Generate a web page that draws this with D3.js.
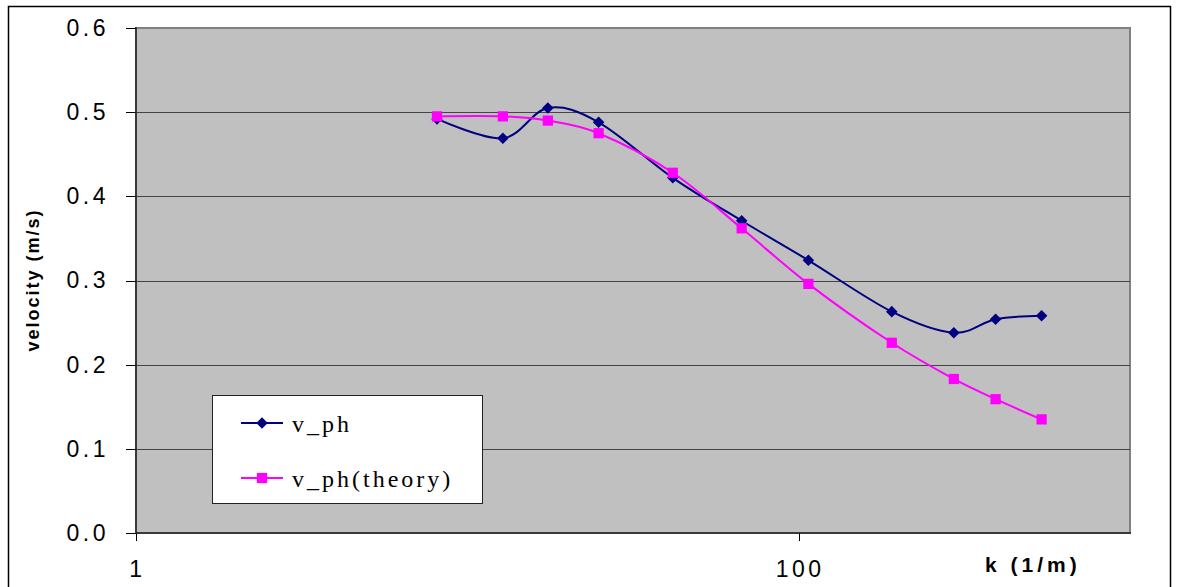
<!DOCTYPE html>
<html lang="en">
<head>
<meta charset="UTF-8">
<title>velocity vs k</title>
<script src="https://d3js.org/d3.v7.min.js" charset="utf-8"></script>
<style>
  body { margin: 0; background: white; }
  .Yaxis path, .Xaxis path { display: none; }
  .Yaxis line, .Xaxis line { stroke: black; stroke-width: 1px; shape-rendering: crispEdges; }
  .Yaxis text, .Xaxis text { font-family: "Liberation Sans", Arial, sans-serif; font-size: 23px; fill: black; letter-spacing: 3.5px; }
  .grid line { stroke: #444; stroke-width: 1px; shape-rendering: crispEdges; }
  .legendText { font-family: "Liberation Serif", "Times New Roman", serif; font-size: 24px; letter-spacing: 3px; }
</style>
</head>
<body>
<svg id="chart" width="1178" height="587"></svg>
<script>
  // ---------- data ----------
  var kValues   = [8.1, 12.8, 17.5, 24.9, 41.7, 67.3, 107, 191, 294, 393, 541];
  var vPh       = [0.492, 0.469, 0.505, 0.488, 0.422, 0.371, 0.324, 0.263, 0.238, 0.254, 0.258];
  var vPhTheory = [0.495, 0.495, 0.490, 0.475, 0.428, 0.362, 0.296, 0.226, 0.183, 0.159, 0.135];
  var yTicks    = [0, 0.1, 0.2, 0.3, 0.4, 0.5, 0.6];
  var xTicks    = [1, 100];
  var seriesNames = ["v_ph", "v_ph(theory)"];

  //-------------------
  var plotLeft = 136, plotRight = 1130, plotTop = 28, plotBottom = 533;

  var svg = d3.select("#chart");

  // outer frame
  svg.append("rect")
    .attr("x", 8.5).attr("y", 6.5)
    .attr("width", 1162).attr("height", 600)
    .style("fill", "white").style("stroke", "black").style("stroke-width", 1.5);

  var xScale = d3.scaleLog().domain([1, 1000]).range([plotLeft, plotRight]);
  var yScale = d3.scaleLinear().domain([0, 0.6]).range([plotBottom, plotTop]);

  // plot area
  svg.append("rect")
    .attr("x", plotLeft).attr("y", plotTop)
    .attr("width", plotRight - plotLeft).attr("height", plotBottom - plotTop)
    .style("fill", "#c0c0c0").style("stroke", "#808080").style("stroke-width", 2);

  // gridlines
  svg.append("g").attr("class", "grid")
    .selectAll("line")
    .data(yTicks.slice(1, -1))
    .enter().append("line")
    .attr("x1", plotLeft).attr("x2", plotRight)
    .attr("y1", function(d) { return Math.round(yScale(d)) + 0.5; })
    .attr("y2", function(d) { return Math.round(yScale(d)) + 0.5; });

  // axes
  var yAxis = d3.axisLeft(yScale).tickValues(yTicks)
    .tickFormat(d3.format(".1f")).tickSize(10).tickPadding(17);
  svg.append("g")
    .attr("class", "Yaxis")
    .attr("transform", "translate(" + plotLeft + ",0)")
    .call(yAxis);

  var xAxis = d3.axisBottom(xScale).tickValues(xTicks)
    .tickFormat(d3.format("d")).tickSize(8).tickPadding(20);
  svg.append("g")
    .attr("class", "Xaxis")
    .attr("transform", "translate(0," + plotBottom + ")")
    .call(xAxis);
  svg.selectAll(".Xaxis text").attr("dx", "1px");

  // axis lines on top of plot border
  svg.append("line").attr("x1", plotLeft).attr("x2", plotLeft).attr("y1", plotTop - 1).attr("y2", plotBottom)
    .style("stroke", "#222").style("stroke-width", 1.5);
  svg.append("line").attr("x1", plotLeft).attr("x2", plotRight + 1).attr("y1", plotBottom).attr("y2", plotBottom)
    .style("stroke", "#222").style("stroke-width", 1.5);

  // axis titles
  svg.append("text")
    .attr("transform", "translate(39," + 280 + ") rotate(-90)")
    .attr("text-anchor", "middle")
    .style("font-family", "'Liberation Sans', Arial, sans-serif")
    .style("font-size", "18px").style("font-weight", "bold")
    .style("letter-spacing", "2px")
    .text("velocity (m/s)");

  svg.append("text")
    .attr("x", 985).attr("y", 572)
    .style("font-family", "'Liberation Sans', Arial, sans-serif")
    .style("font-size", "21px").style("font-weight", "bold")
    .style("letter-spacing", "4px")
    .text("k (1/m)");

  //-------------------  series (blue first, magenta drawn over it)
  var line = d3.line()
    .x(function(d) { return xScale(d[0]); })
    .y(function(d) { return yScale(d[1]); })
    .curve(d3.curveCatmullRom.alpha(0));

  var blueData = kValues.map(function(k, i) { return [k, vPh[i]]; });
  var pinkData = kValues.map(function(k, i) { return [k, vPhTheory[i]]; });

  var diamond = d3.symbol().type(d3.symbolDiamond2).size(85);
  var square = d3.symbol().type(d3.symbolSquare).size(105);

  var seriesList = [
    { name: "blue", data: blueData, color: "#000080", sym: diamond },
    { name: "pink", data: pinkData, color: "#ff00ff", sym: square }
  ];

  seriesList.forEach(function(s) {
    svg.append("path").datum(s.data).attr("d", line)
      .style("fill", "none").style("stroke", s.color).style("stroke-width", 2);

    svg.selectAll("." + s.name + "Pt")
      .data(s.data)
      .enter().append("path")
      .attr("class", s.name + "Pt")
      .attr("transform", function(d) { return "translate(" + xScale(d[0]) + "," + yScale(d[1]) + ")"; })
      .attr("d", s.sym)
      .style("fill", s.color);
  });

  //-------------------  legend
  var legend = svg.append("g");
  legend.append("rect")
    .attr("x", 212.5).attr("y", 395.5).attr("width", 270).attr("height", 108)
    .style("fill", "white").style("stroke", "#222").style("stroke-width", 1);

  var legendY = [423, 478];

  seriesNames.forEach(function(name, i) {
    legend.append("line")
      .attr("x1", 241).attr("x2", 283).attr("y1", legendY[i]).attr("y2", legendY[i])
      .style("stroke", seriesList[i].color).style("stroke-width", 2);
    legend.append("path")
      .attr("transform", "translate(262," + legendY[i] + ")")
      .attr("d", seriesList[i].sym)
      .style("fill", seriesList[i].color);
    legend.append("text")
      .attr("class", "legendText")
      .attr("x", 292).attr("y", legendY[i] + 9)
      .text(name);
  });
</script>
</body>
</html>
